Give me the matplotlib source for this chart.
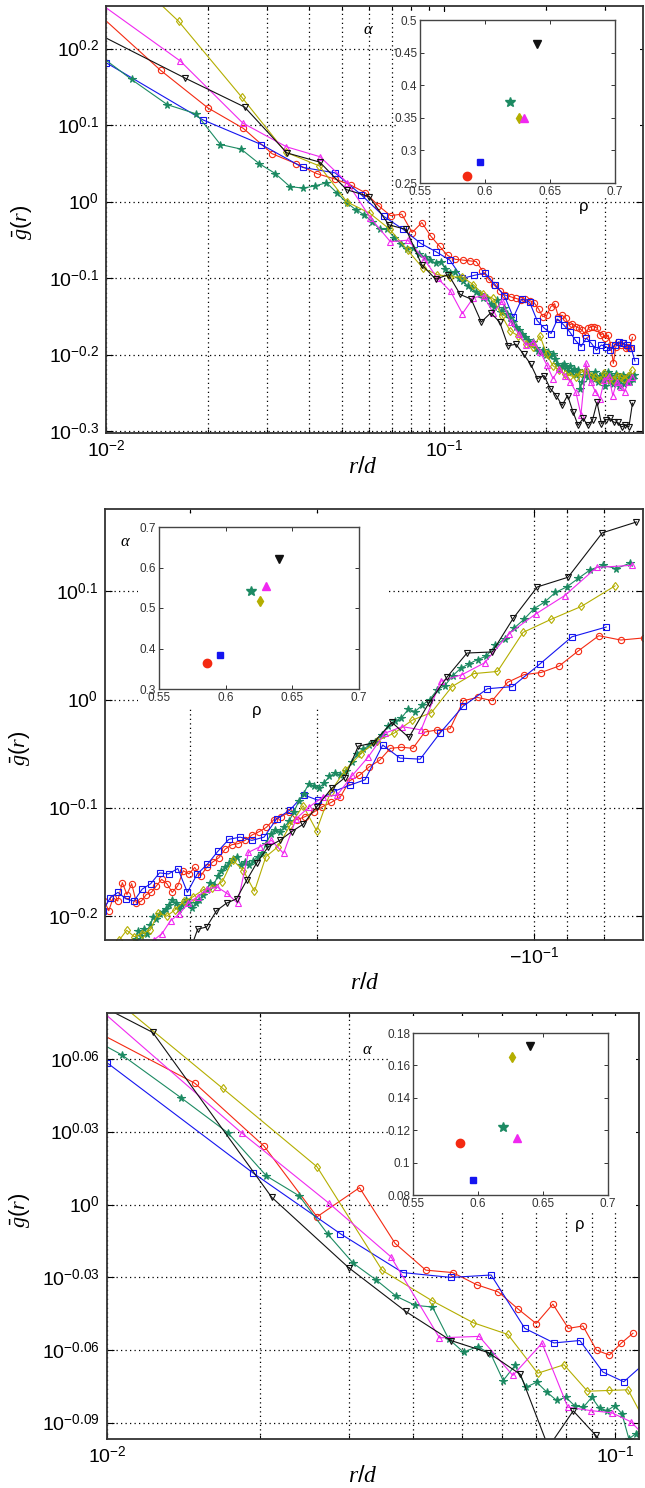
import numpy as np
import matplotlib
matplotlib.use('Agg')
import matplotlib.pyplot as plt
from matplotlib.ticker import FixedLocator, FixedFormatter, NullLocator, NullFormatter, FormatStrFormatter
from matplotlib.patches import Rectangle

plt.rcParams['font.family'] = ['Liberation Sans', 'DejaVu Sans']
plt.rcParams['mathtext.fontset'] = 'custom'
plt.rcParams['mathtext.rm'] = 'Liberation Sans'
plt.rcParams['mathtext.it'] = 'Liberation Serif:italic'
plt.rcParams['mathtext.bf'] = 'Liberation Sans:bold'

W, H = 645, 1488

# ---------------- panel 1 data (r/d, log10 g) ----------------
p1_red_r = [0.0090, 0.0145, 0.0200, 0.0255, 0.0310, 0.0365, 0.0420, 0.0475, 0.0530, 0.0585,
            0.0640, 0.0695, 0.0750, 0.0805, 0.0860, 0.0915, 0.0970, 0.1025, 0.1080, 0.1135,
            0.1190, 0.1245, 0.1300, 0.1355, 0.1410, 0.1465, 0.1520, 0.1575, 0.1630, 0.1685,
            0.1740, 0.1795, 0.1850, 0.1905, 0.1960, 0.2015, 0.2070, 0.2125, 0.2180, 0.2235,
            0.2290, 0.2345, 0.2400, 0.2455, 0.2510, 0.2565, 0.2620, 0.2675, 0.2730, 0.2785,
            0.2840, 0.2895, 0.2950, 0.3005, 0.3060, 0.3115, 0.3170, 0.3225, 0.3280, 0.3335,
            0.3390, 0.3445, 0.3500, 0.3555, 0.3610]
p1_red_lg = [0.255, 0.172, 0.123, 0.096, 0.063, 0.050, 0.037, 0.030, 0.022, 0.012,
             -0.005, -0.018, -0.016, -0.040, -0.027, -0.045, -0.058, -0.070, -0.075, -0.076,
             -0.077, -0.078, -0.090, -0.101, -0.109, -0.116, -0.122, -0.124, -0.126, -0.128,
             -0.127, -0.129, -0.132, -0.140, -0.150, -0.148, -0.137, -0.133, -0.150, -0.148,
             -0.152, -0.161, -0.159, -0.163, -0.165, -0.168, -0.174, -0.165, -0.163, -0.163,
             -0.165, -0.174, -0.172, -0.178, -0.174, -0.187, -0.211, -0.189, -0.183, -0.187,
             -0.185, -0.191, -0.189, -0.191, -0.177]

p1_blue_r = [0.0100, 0.0194, 0.0288, 0.0382, 0.0476, 0.0570, 0.0664, 0.0758, 0.0852, 0.0946,
             0.1040, 0.1134, 0.1228, 0.1322, 0.1416, 0.1510, 0.1604, 0.1698, 0.1792, 0.1886,
             0.1980, 0.2074, 0.2168, 0.2262, 0.2356, 0.2450, 0.2544, 0.2638, 0.2732, 0.2826,
             0.2920, 0.3014, 0.3108, 0.3202, 0.3296, 0.3390, 0.3484, 0.3578, 0.3672]
p1_blue_lg = [0.182, 0.107, 0.075, 0.045, 0.038, 0.009, -0.019, -0.036, -0.054, -0.065,
              -0.076, -0.100, -0.096, -0.093, -0.108, -0.123, -0.151, -0.127, -0.131, -0.155,
              -0.165, -0.172, -0.153, -0.161, -0.170, -0.181, -0.189, -0.178, -0.185, -0.194,
              -0.187, -0.189, -0.194, -0.187, -0.183, -0.185, -0.187, -0.191, -0.208]

p1_green_r = [0.0086, 0.0119, 0.0152, 0.0185, 0.0218, 0.0251, 0.0284, 0.0317, 0.0350, 0.0383,
              0.0416, 0.0449, 0.0482, 0.0515, 0.0548, 0.0581, 0.0614, 0.0647, 0.0680, 0.0713,
              0.0746, 0.0779, 0.0812, 0.0845, 0.0878, 0.0911, 0.0944, 0.0977, 0.1010, 0.1043,
              0.1076, 0.1109, 0.1142, 0.1175, 0.1208, 0.1241, 0.1274, 0.1307, 0.1340, 0.1373,
              0.1406, 0.1439, 0.1472, 0.1505, 0.1538, 0.1571, 0.1604, 0.1637, 0.1670, 0.1703,
              0.1736, 0.1769, 0.1802, 0.1835, 0.1868, 0.1901, 0.1934, 0.1967, 0.2000, 0.2033,
              0.2066, 0.2099, 0.2132, 0.2165, 0.2198, 0.2231, 0.2264, 0.2297, 0.2330, 0.2363,
              0.2396, 0.2429, 0.2462, 0.2495, 0.2528, 0.2561, 0.2594, 0.2627, 0.2660, 0.2693,
              0.2726, 0.2759, 0.2792, 0.2825, 0.2858, 0.2891, 0.2924, 0.2957, 0.2990, 0.3023,
              0.3056, 0.3089, 0.3122, 0.3155, 0.3188, 0.3221, 0.3254, 0.3287, 0.3320, 0.3353,
              0.3386, 0.3419, 0.3452, 0.3485, 0.3518, 0.3551, 0.3584, 0.3617, 0.3650]
p1_green_lg = [0.207, 0.160, 0.127, 0.115, 0.075, 0.069, 0.050, 0.037, 0.020, 0.018,
               0.021, 0.025, 0.012, -0.001, -0.010, -0.017, -0.026, -0.036, -0.036, -0.047,
               -0.055, -0.062, -0.060, -0.068, -0.072, -0.076, -0.080, -0.078, -0.088, -0.093,
               -0.091, -0.100, -0.104, -0.110, -0.113, -0.118, -0.121, -0.126, -0.125, -0.133,
               -0.137, -0.128, -0.144, -0.139, -0.146, -0.152, -0.157, -0.163, -0.168, -0.172,
               -0.176, -0.181, -0.186, -0.183, -0.191, -0.195, -0.197, -0.193, -0.200, -0.196,
               -0.202, -0.199, -0.205, -0.212, -0.218, -0.214, -0.212, -0.216, -0.221, -0.215,
               -0.222, -0.218, -0.226, -0.220, -0.244, -0.235, -0.226, -0.222, -0.229, -0.226,
               -0.232, -0.228, -0.222, -0.230, -0.236, -0.227, -0.233, -0.225, -0.240, -0.230,
               -0.222, -0.234, -0.228, -0.238, -0.231, -0.225, -0.236, -0.240, -0.229, -0.233,
               -0.226, -0.238, -0.230, -0.234, -0.228, -0.236, -0.229, -0.232, -0.226]

p1_olive_r = [0.0076, 0.0164, 0.0252, 0.0340, 0.0428, 0.0516, 0.0604, 0.0692, 0.0780, 0.0868,
              0.0956, 0.1044, 0.1132, 0.1220, 0.1308, 0.1396, 0.1484, 0.1572, 0.1660, 0.1748,
              0.1836, 0.1924, 0.2012, 0.2100, 0.2188, 0.2276, 0.2364, 0.2452, 0.2540, 0.2628,
              0.2716, 0.2804, 0.2892, 0.2980, 0.3068, 0.3156, 0.3244, 0.3332, 0.3420, 0.3508,
              0.3596]
p1_olive_lg = [0.375, 0.236, 0.137, 0.065, 0.047, 0.000, -0.015, -0.036, -0.063, -0.087,
               -0.095, -0.098, -0.098, -0.108, -0.121, -0.126, -0.149, -0.169, -0.175, -0.186,
               -0.190, -0.175, -0.199, -0.214, -0.220, -0.225, -0.227, -0.229, -0.223, -0.220,
               -0.227, -0.229, -0.233, -0.223, -0.231, -0.233, -0.227, -0.229, -0.231, -0.227,
               -0.220]

p1_mag_r = [0.0078, 0.0166, 0.0254, 0.0342, 0.0430, 0.0518, 0.0606, 0.0694, 0.0782, 0.0870,
            0.0958, 0.1046, 0.1134, 0.1222, 0.1310, 0.1398, 0.1486, 0.1574, 0.1662, 0.1750,
            0.1838, 0.1926, 0.2014, 0.2102, 0.2190, 0.2278, 0.2366, 0.2454, 0.2542, 0.2630,
            0.2718, 0.2806, 0.2894, 0.2982, 0.3070, 0.3158, 0.3246, 0.3334, 0.3422, 0.3510,
            0.3598]
p1_mag_lg = [0.288, 0.184, 0.103, 0.072, 0.059, 0.025, -0.021, -0.052, -0.050, -0.074,
             -0.100, -0.117, -0.146, -0.125, -0.123, -0.145, -0.130, -0.157, -0.172, -0.187,
             -0.183, -0.196, -0.213, -0.231, -0.218, -0.227, -0.235, -0.248, -0.278, -0.211,
             -0.235, -0.248, -0.257, -0.233, -0.227, -0.253, -0.235, -0.242, -0.248, -0.235,
             -0.229]

p1_black_r = [0.0085, 0.0171, 0.0257, 0.0343, 0.0429, 0.0515, 0.0601, 0.0687, 0.0773, 0.0859,
              0.0945, 0.1031, 0.1117, 0.1203, 0.1289, 0.1375, 0.1461, 0.1547, 0.1633, 0.1719,
              0.1805, 0.1891, 0.1977, 0.2063, 0.2149, 0.2235, 0.2321, 0.2407, 0.2493, 0.2579,
              0.2665, 0.2751, 0.2837, 0.2923, 0.3009, 0.3095, 0.3181, 0.3267, 0.3353, 0.3439,
              0.3525, 0.3611]
p1_black_lg = [0.230, 0.162, 0.124, 0.064, 0.052, 0.016, 0.007, -0.030, -0.036, -0.082,
               -0.101, -0.095, -0.121, -0.127, -0.157, -0.145, -0.157, -0.188, -0.186, -0.199,
               -0.212, -0.231, -0.227, -0.244, -0.253, -0.266, -0.253, -0.274, -0.292, -0.283,
               -0.292, -0.285, -0.262, -0.290, -0.285, -0.283, -0.288, -0.288, -0.294, -0.292,
               -0.294, -0.263]

# ---------------- panel 2 data ----------------
p2_red_r = [0.0703, 0.0758, 0.0813, 0.0868, 0.0923, 0.0978, 0.1033, 0.1088, 0.1143, 0.1198,
            0.1253, 0.1308, 0.1363, 0.1418, 0.1473, 0.1528, 0.1583, 0.1638, 0.1693, 0.1748,
            0.1803, 0.1858, 0.1913, 0.1968, 0.2023, 0.2078, 0.2133, 0.2188, 0.2243, 0.2298,
            0.2353, 0.2408, 0.2463, 0.2518, 0.2573, 0.2628, 0.2683, 0.2738, 0.2793, 0.2848,
            0.2903, 0.2958, 0.3013, 0.3068, 0.3123, 0.3178, 0.3233, 0.3288, 0.3343, 0.3398,
            0.3453, 0.3508, 0.3563, 0.3618, 0.3673, 0.3728, 0.3783, 0.3838, 0.3893, 0.3948]
p2_red_lg = [0.057, 0.055, 0.059, 0.045, 0.031, 0.025, 0.023, 0.016, -0.001, 0.002,
             -0.001, -0.027, -0.028, -0.030, -0.045, -0.044, -0.045, -0.056, -0.062, -0.070,
             -0.075, -0.090, -0.095, -0.099, -0.104, -0.108, -0.111, -0.104, -0.108, -0.111,
             -0.118, -0.122, -0.125, -0.130, -0.133, -0.134, -0.138, -0.146, -0.150, -0.155,
             -0.163, -0.155, -0.161, -0.158, -0.172, -0.178, -0.170, -0.166, -0.172, -0.178,
             -0.180, -0.186, -0.188, -0.170, -0.180, -0.169, -0.186, -0.183, -0.195, -0.186]

p2_blue_r = [0.0794, 0.0886, 0.0981, 0.1072, 0.1161, 0.1254, 0.1351, 0.1439, 0.1535, 0.1622,
             0.1716, 0.1801, 0.1900, 0.1994, 0.2088, 0.2182, 0.2276, 0.2370, 0.2464, 0.2558,
             0.2652, 0.2746, 0.2840, 0.2934, 0.3028, 0.3122, 0.3216, 0.3310, 0.3404, 0.3498,
             0.3592, 0.3686, 0.3780, 0.3874, 0.3968]
p2_blue_lg = [0.067, 0.058, 0.033, 0.012, 0.010, -0.006, -0.031, -0.055, -0.054, -0.042,
              -0.074, -0.079, -0.085, -0.093, -0.088, -0.102, -0.110, -0.127, -0.130, -0.127,
              -0.129, -0.140, -0.152, -0.161, -0.178, -0.156, -0.161, -0.160, -0.170, -0.175,
              -0.186, -0.184, -0.178, -0.183, -0.195]

p2_green_r = [0.0736, 0.0769, 0.0802, 0.0835, 0.0868, 0.0901, 0.0934, 0.0967, 0.1000, 0.1033,
              0.1066, 0.1099, 0.1132, 0.1165, 0.1198, 0.1231, 0.1264, 0.1297, 0.1330, 0.1363,
              0.1396, 0.1429, 0.1462, 0.1495, 0.1528, 0.1561, 0.1594, 0.1627, 0.1660, 0.1693,
              0.1726, 0.1759, 0.1792, 0.1825, 0.1858, 0.1891, 0.1924, 0.1957, 0.1990, 0.2023,
              0.2056, 0.2089, 0.2122, 0.2155, 0.2188, 0.2221, 0.2254, 0.2287, 0.2320, 0.2353,
              0.2386, 0.2419, 0.2452, 0.2485, 0.2518, 0.2551, 0.2584, 0.2617, 0.2650, 0.2683,
              0.2716, 0.2749, 0.2782, 0.2815, 0.2848, 0.2881, 0.2914, 0.2947, 0.2980, 0.3013,
              0.3046, 0.3079, 0.3112, 0.3145, 0.3178, 0.3211, 0.3244, 0.3277, 0.3310, 0.3343,
              0.3376, 0.3409, 0.3442, 0.3475, 0.3508, 0.3541, 0.3574, 0.3607]
p2_green_lg = [0.126, 0.121, 0.124, 0.120, 0.112, 0.104, 0.099, 0.090, 0.084, 0.074,
               0.066, 0.056, 0.050, 0.040, 0.037, 0.033, 0.029, 0.022, 0.013, 0.009,
               0.000, -0.005, -0.011, -0.009, -0.017, -0.020, -0.024, -0.033, -0.039, -0.042,
               -0.046, -0.050, -0.058, -0.066, -0.070, -0.068, -0.071, -0.077, -0.082, -0.080,
               -0.078, -0.087, -0.094, -0.104, -0.112, -0.118, -0.122, -0.120, -0.124, -0.133,
               -0.142, -0.145, -0.149, -0.153, -0.150, -0.153, -0.145, -0.147, -0.151, -0.155,
               -0.158, -0.163, -0.171, -0.169, -0.176, -0.180, -0.185, -0.188, -0.192, -0.188,
               -0.185, -0.190, -0.193, -0.188, -0.185, -0.190, -0.193, -0.196, -0.198, -0.203,
               -0.201, -0.208, -0.216, -0.212, -0.218, -0.214, -0.221, -0.232]

p2_olive_r = [0.0772, 0.0860, 0.0948, 0.1036, 0.1124, 0.1212, 0.1300, 0.1388, 0.1476, 0.1564,
              0.1652, 0.1740, 0.1828, 0.1916, 0.2004, 0.2092, 0.2180, 0.2268, 0.2356, 0.2444,
              0.2532, 0.2620, 0.2708, 0.2796, 0.2884, 0.2972, 0.3060, 0.3148, 0.3236, 0.3324,
              0.3412, 0.3500, 0.3588, 0.3676, 0.3764, 0.3852]
p2_olive_lg = [0.105, 0.086, 0.074, 0.062, 0.026, 0.024, 0.012, -0.012, -0.019, -0.031,
               -0.038, -0.050, -0.065, -0.085, -0.121, -0.098, -0.116, -0.136, -0.145, -0.177,
               -0.158, -0.148, -0.168, -0.174, -0.176, -0.182, -0.186, -0.194, -0.200, -0.197,
               -0.213, -0.216, -0.219, -0.213, -0.222, -0.230]

p2_mag_r = [0.0731, 0.0819, 0.0907, 0.0995, 0.1083, 0.1171, 0.1259, 0.1347, 0.1435, 0.1523,
            0.1611, 0.1699, 0.1787, 0.1875, 0.1963, 0.2051, 0.2139, 0.2227, 0.2315, 0.2403,
            0.2491, 0.2579, 0.2667, 0.2755, 0.2843, 0.2931, 0.3019, 0.3107, 0.3195, 0.3283,
            0.3371, 0.3459]
p2_mag_lg = [0.124, 0.122, 0.096, 0.079, 0.061, 0.034, 0.023, 0.017, -0.028, -0.025,
             -0.031, -0.053, -0.070, -0.088, -0.090, -0.099, -0.110, -0.142, -0.130, -0.136,
             -0.141, -0.188, -0.179, -0.173, -0.175, -0.182, -0.188, -0.198, -0.204, -0.216,
             -0.222, -0.235]

p2_black_r = [0.0721, 0.0804, 0.0897, 0.0990, 0.1069, 0.1143, 0.1239, 0.1320, 0.1399, 0.1492,
              0.1575, 0.1672, 0.1754, 0.1830, 0.1910, 0.2003, 0.2091, 0.2170, 0.2254, 0.2339,
              0.2427, 0.2506, 0.2588, 0.2672, 0.2759, 0.2848, 0.2930, 0.3015, 0.3100]
p2_black_lg = [0.164, 0.154, 0.113, 0.104, 0.075, 0.044, 0.043, 0.021, -0.003, -0.035,
               -0.021, -0.040, -0.043, -0.072, -0.082, -0.099, -0.115, -0.122, -0.130, -0.136,
               -0.151, -0.167, -0.184, -0.188, -0.195, -0.210, -0.212, -0.235, -0.250]

# ---------------- panel 3 data ----------------
p3_red_r = [0.0094, 0.0149, 0.0204, 0.0259, 0.0314, 0.0369, 0.0424, 0.0479, 0.0534, 0.0589,
            0.0644, 0.0699, 0.0754, 0.0809, 0.0864, 0.0919, 0.0974, 0.1029, 0.1084]
p3_red_lg = [0.072, 0.050, 0.024, -0.005, 0.007, -0.016, -0.027, -0.028, -0.033, -0.036,
             -0.043, -0.049, -0.041, -0.051, -0.050, -0.060, -0.062, -0.057, -0.053]

p3_blue_r = [0.0100, 0.0194, 0.0288, 0.0382, 0.0476, 0.0570, 0.0664, 0.0758, 0.0852, 0.0946,
             0.1040, 0.1134]
p3_blue_lg = [0.0585, 0.013, -0.012, -0.028, -0.030, -0.029, -0.051, -0.057, -0.056, -0.069,
              -0.073, -0.066]

p3_green_r = [0.0074, 0.0107, 0.0140, 0.0173, 0.0206, 0.0239, 0.0272, 0.0305, 0.0338, 0.0371,
              0.0404, 0.0437, 0.0470, 0.0503, 0.0536, 0.0569, 0.0602, 0.0635, 0.0668, 0.0701,
              0.0734, 0.0767, 0.0800, 0.0833, 0.0866, 0.0899, 0.0932, 0.0965, 0.0998, 0.1031,
              0.1064, 0.1097, 0.1130]
p3_green_lg = [0.080, 0.0617, 0.044, 0.0296, 0.0118, 0.0036, -0.0122, -0.0241, -0.0309, -0.0378,
               -0.0415, -0.0422, -0.0553, -0.0608, -0.0585, -0.0615, -0.0725, -0.0663, -0.0752, -0.0732,
               -0.0773, -0.0807, -0.0794, -0.0830, -0.0835, -0.0794, -0.0840, -0.0849, -0.0828, -0.0862,
               -0.0965, -0.0945, -0.0920]

p3_olive_r = [0.0080, 0.0169, 0.0259, 0.0348, 0.0437, 0.0526, 0.0615, 0.0704, 0.0793, 0.0882,
              0.0971, 0.1060, 0.1149]
p3_olive_lg = [0.104, 0.0479, 0.0156, -0.0271, -0.0397, -0.0487, -0.0535, -0.0695, -0.066, -0.0769,
               -0.0766, -0.0763, -0.090]

p3_mag_r = [0.0095, 0.0184, 0.0273, 0.0362, 0.0451, 0.0540, 0.0629, 0.0718, 0.0807, 0.0896,
            0.0985, 0.1074, 0.1163]
p3_mag_lg = [0.082, 0.0296, 0.0007, -0.0215, -0.0549, -0.0543, -0.0704, -0.0571, -0.0835, -0.0849,
             -0.0858, -0.0895, -0.097]

p3_black_r = [0.0035, 0.0123, 0.0211, 0.0299, 0.0387, 0.0475, 0.0563, 0.0651, 0.0739, 0.0827,
              0.0915, 0.1003]
p3_black_lg = [0.130, 0.071, 0.003, -0.026, -0.044, -0.056, -0.061, -0.070, -0.100, -0.085,
               -0.095, -0.105]

# ---------------- inset data (alpha vs rho) ----------------
rho = [0.586, 0.596, 0.619, 0.626, 0.630, 0.640]
alpha1 = [0.261, 0.282, 0.3745, 0.350, 0.349, 0.4626]
alpha2 = [0.364, 0.383, 0.543, 0.518, 0.554, 0.622]
alpha3 = [0.112, 0.089, 0.1217, 0.165, 0.115, 0.172]

# styles: red, blue, green, olive, magenta, black
cols = ['#f42a12', '#1414f0', '#1c8a62', '#b4ae00', '#f028f0', '#111111']
marks = ['o', 's', '*', 'd', '^', 'v']
dots = (0, (1, 2.6))


def fbox(l, t, r, b):
    return [l / W, 1 - b / H, (r - l) / W, (b - t) / H]


fig = plt.figure(figsize=(W / 100, H / 100), dpi=100)


def main_panel(box, series, xlim, ylim, yexp, xmaj, xlab, xmin):
    ax = fig.add_axes(fbox(*box), zorder=0)
    ax.set_xscale('log')
    ax.set_yscale('log')
    for (r, lg), c, m in zip(series, cols, marks):
        filled = m == '*'
        ax.plot(r, 10 ** np.array(lg), color=c, marker=m, lw=0.8,
                ms=5.5 if filled else 4.5, mew=0.8,
                mfc=c if filled else 'none')
    ax.set_xlim(*xlim)
    ax.set_ylim(10 ** ylim[0], 10 ** ylim[1])
    ax.yaxis.set_major_locator(FixedLocator([10 ** e for e in yexp]))
    ax.yaxis.set_major_formatter(FixedFormatter(['$10^{%g}$' % e for e in yexp]))
    ax.yaxis.set_minor_locator(NullLocator())
    ax.xaxis.set_major_locator(FixedLocator(xmaj))
    ax.xaxis.set_major_formatter(FixedFormatter(xlab))
    ax.xaxis.set_minor_locator(FixedLocator(xmin))
    ax.xaxis.set_minor_formatter(NullFormatter())
    ax.tick_params(which='both', direction='in', top=True, right=True, labelsize=14, pad=5)
    ax.tick_params(which='major', length=5, width=0.8)
    ax.tick_params(which='minor', length=3, width=0.8)
    ax.grid(True, which='major', linestyle=dots, color='k', lw=0.9)
    ax.grid(True, which='minor', axis='x', linestyle=dots, color='k', lw=0.9)
    for s in ax.spines.values():
        s.set_linewidth(1.3)
        s.set_color('#333333')
    return ax


def inset(box, alphas, ylim, yticks):
    ax = fig.add_axes(fbox(*box), zorder=3)
    for x, y, c, m in zip(rho, alphas, cols, marks):
        ms = {'o': 6, 's': 4.5, '*': 7, 'd': 5.5, '^': 6, 'v': 6}[m]
        ax.plot([x], [y], marker=m, color=c, mfc=c, mec=c, ms=ms, ls='none')
    ax.set_xlim(0.55, 0.7)
    ax.set_ylim(*ylim)
    ax.set_xticks([0.55, 0.6, 0.65, 0.7])
    ax.set_yticks(yticks)
    ax.xaxis.set_major_formatter(FormatStrFormatter('%g'))
    ax.yaxis.set_major_formatter(FormatStrFormatter('%g'))
    ax.tick_params(direction='in', top=True, right=True, labelsize=8.5, length=3,
                   width=0.7, pad=2, colors='#333333')
    for s in ax.spines.values():
        s.set_linewidth(1.0)
        s.set_color('#444444')
    return ax


def white(l, t, r, b):
    fig.patches.append(Rectangle((l / W, 1 - b / H), (r - l) / W, (b - t) / H,
                                 transform=fig.transFigure, facecolor='white',
                                 edgecolor='none', zorder=2))


def ftext(x, y, s, **kw):
    fig.text(x / W, 1 - y / H, s, ha='center', va='center', zorder=5, **kw)


minors13 = [0.02, 0.03, 0.04, 0.05, 0.06, 0.07, 0.08, 0.09, 0.2, 0.3]

main_panel((106, 6, 643, 433),
           [(p1_red_r, p1_red_lg), (p1_blue_r, p1_blue_lg), (p1_green_r, p1_green_lg),
            (p1_olive_r, p1_olive_lg), (p1_mag_r, p1_mag_lg), (p1_black_r, p1_black_lg)],
           (0.01, 0.388), (-0.302, 0.256), [0.2, 0.1, 0, -0.1, -0.2, -0.3],
           [0.01, 0.1], ['$10^{-2}$', '$10^{-1}$'], minors13)

main_panel((105, 509, 643, 940),
           [(p2_red_r, p2_red_lg), (p2_blue_r, p2_blue_lg), (p2_green_r, p2_green_lg),
            (p2_olive_r, p2_olive_lg), (p2_mag_r, p2_mag_lg), (p2_black_r, p2_black_lg)],
           (0.394, 0.0706), (-0.222, 0.176), [0.1, 0, -0.1, -0.2],
           [0.1], ['$-10^{-1}$'], [0.08, 0.09, 0.2, 0.3])

main_panel((107, 1013, 639, 1439),
           [(p3_red_r, p3_red_lg), (p3_blue_r, p3_blue_lg), (p3_green_r, p3_green_lg),
            (p3_olive_r, p3_olive_lg), (p3_mag_r, p3_mag_lg), (p3_black_r, p3_black_lg)],
           (0.01, 0.1114), (-0.0966, 0.079), [0.06, 0.03, 0, -0.03, -0.06, -0.09],
           [0.01, 0.1], ['$10^{-2}$', '$10^{-1}$'], minors13[:8])

# white areas behind the insets and their labels
white(398, 12, 640, 197)
white(138, 516, 387, 709)
white(388, 1016, 636, 1212)

inset((420, 20, 615, 183), alpha1, (0.25, 0.5), [0.25, 0.3, 0.35, 0.4, 0.45, 0.5])
inset((159, 527, 359, 689), alpha2, (0.3, 0.7), [0.3, 0.4, 0.5, 0.6, 0.7])
inset((413, 1033, 608, 1195), alpha3, (0.08, 0.18), [0.08, 0.1, 0.12, 0.14, 0.16, 0.18])

# inset axis labels
ftext(369, 30, r'$\alpha$', fontsize=12)
ftext(584, 207, 'ρ', fontsize=12)
ftext(126, 542, r'$\alpha$', fontsize=12)
ftext(257, 710, 'ρ', fontsize=12)
ftext(368, 1050, r'$\alpha$', fontsize=12)
ftext(580, 1225, 'ρ', fontsize=12)

# main axis labels
for yx, yy, xx, xy in [(21, 222, 363, 467), (20, 748, 365, 983), (20, 1210, 363, 1476)]:
    ftext(xx, xy, r'$r/d$', fontsize=17)
    ftext(yx, yy, r'$\bar{g}\mathit{(r)}$', fontsize=16, rotation=90)

fig.savefig('out.png', dpi=100)
